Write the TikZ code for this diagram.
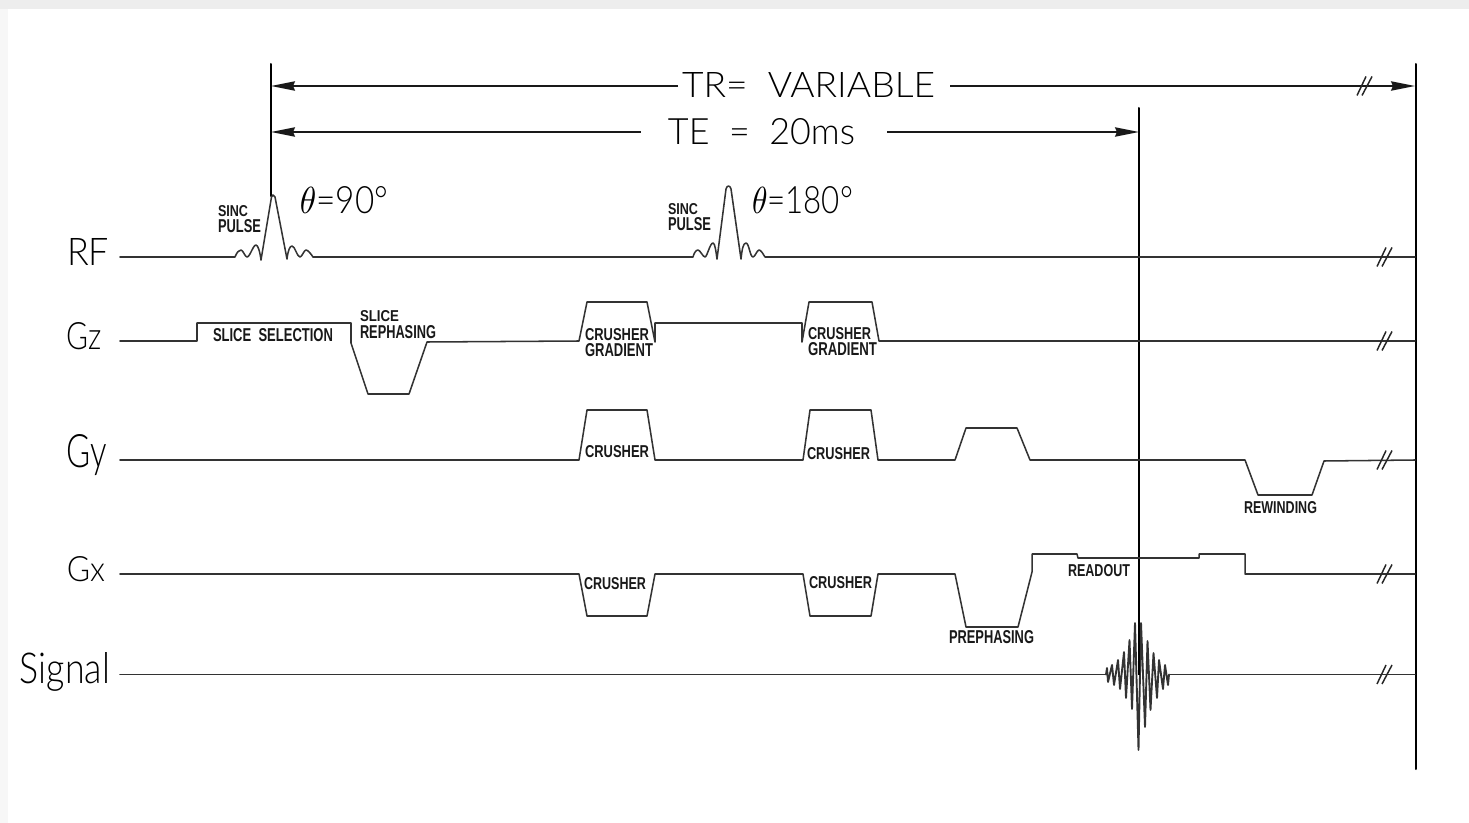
\documentclass[tikz,border=0pt]{standalone}
\usepackage{graphicx}
\usepackage{fontspec}
\setmainfont{Liberation Sans}
\newfontfamily\thinf{Lato Light}
\usetikzlibrary{arrows.meta}
\newdimen\pxd \pxd=0.75pt
\newcommand\fitl[3]{\resizebox{#1\pxd}{#2\pxd}{#3}}
\newcommand\brk[2]{%
  \draw[brk] ([shift={(-7,9.5)}]#1,#2) -- ([shift={(2,-9.5)}]#1,#2);
  \draw[brk] ([shift={(-2,9.5)}]#1,#2) -- ([shift={(8,-9.5)}]#1,#2);}
\tikzset{
  sig/.style={draw=black!80,line width=1.15pt,line join=round,line cap=round},
  vert/.style={draw=black,line width=1.5pt,line cap=round},
  dim/.style={draw=black!90,line width=1.15pt},
  arr/.style={dim,-{Stealth[length=18pt,width=7pt,inset=1.5pt]}},
  brk/.style={draw=black!85,line width=1.1pt},
  big/.style={inner sep=0pt,outer sep=0pt,text=black,font=\thinf},
  tiny/.style={inner sep=0pt,outer sep=0pt,text=black!90,font=\bfseries},
  two/.style={tiny,anchor=north west,align=left,font=\bfseries\fontsize{8}{0}\selectfont},
}
\begin{document}
\begin{tikzpicture}[x=0.75pt,y=-0.75pt]
\useasboundingbox (0,0) rectangle (1469,823);
\fill[white] (0,0) rectangle (1469,823);
\fill[black!7] (0,0) rectangle (1469,9);
\fill[black!3] (0,9) rectangle (8,823);

% vertical time markers
\coordinate (a0) at (271,64);  \coordinate (a1) at (271,196);
\coordinate (b0) at (1139,108);\coordinate (b1) at (1139,672);
\coordinate (c0) at (1415.5,64);\coordinate (c1) at (1415.5,769);
\draw[vert] (a0) -- (a1);
\draw[vert] (b0) -- (b1);
\draw[vert] (c0) -- (c1);

% timing labels and arrows
\node[big] (tr) at (808.5,85.5) {\fitl{253}{25}{TR=\ \ VARIABLE}};
\node[big] (te) at (761.5,132) {\fitl{187}{26}{TE\ \ =\ \ 20ms}};
\coordinate (trl) at (271,86); \coordinate (trr) at (1415,86);
\coordinate (tel) at (271,132); \coordinate (ter) at (1139,132);
\draw[arr] (tr.west |- trl) ++(-4,0) -- (trl);
\draw[arr] (tr.east |- trr) ++(15,0) -- (trr);
\draw[arr] (te.west |- tel) ++(-27,0) -- (tel);
\draw[arr] (te.east |- ter) ++(32,0) -- (ter);
\brk{1364}{86}

% row labels
\node[big] (rf) at (88,251.5) {\fitl{42}{27}{RF}};
\node[big] (gz) at (84.5,336.5) {\fitl{35}{27}{Gz}};
\node[big] (gy) at (87,455) {\fitl{40}{33}{Gy}};
\node[big] (gx) at (86,569.5) {\fitl{38}{25}{Gx}};
\node[big] (sg) at (65,671.5) {\fitl{90}{31}{Signal}};

% angle labels
\node[big] (t90) at (344,200) {\fitl{88}{27}{$\theta$=90°}};
\node[big] (t180) at (802.5,200) {\fitl{101}{27}{$\theta$=180°}};

% RF
\draw[sig] (120,257) -- (235,257)
  .. controls (237,252) and (239,250) .. (241,250)
  .. controls (243,250) and (245,257) .. (247,257)
  .. controls (250,257) and (253,245) .. (256,245)
  .. controls (258,245) and (260,252) .. (261,260)
  -- (271.5,197) -- (273,195) -- (275,197) -- (287,259)
  .. controls (288,250) and (290,246) .. (292,246)
  .. controls (295,246) and (297,257) .. (300,257)
  .. controls (302,257) and (304,250) .. (306,250)
  .. controls (308,250) and (311,254) .. (313,257)
  -- (693,257)
  .. controls (694,253) and (696,250) .. (698,250)
  .. controls (700,250) and (703,257) .. (705,257)
  .. controls (707,257) and (710,243) .. (713,243)
  .. controls (715,243) and (716,252) .. (717,259)
  -- (726,189) .. controls (727,185) and (730,185) .. (731,189)
  -- (741,259)
  .. controls (742,250) and (743,243) .. (746,243)
  .. controls (749,243) and (750,257) .. (753,257)
  .. controls (755,257) and (757,250) .. (759,250)
  .. controls (761,250) and (763,254) .. (765,257)
  -- (1415,257);
\brk{1384}{257}

% Gz
\draw[sig] (120,341) -- (197,341) -- (197,323) -- (351,323) -- (351,343)
  -- (368,394) -- (409,394) -- (427,342) -- (579,341) -- (587,302) -- (647,302)
  -- (655,342) -- (655,323) -- (802,323) -- (802,342) -- (809,302) -- (872,302)
  -- (879,341) -- (1415,341);
\brk{1384}{341}

% Gy
\draw[sig] (120,460) -- (579,460) -- (587,410) -- (647,410) -- (655,460)
  -- (803,460) -- (810,410) -- (871,410) -- (878,460) -- (955,460) -- (966,428)
  -- (1017,428) -- (1030,460) -- (1245,460) -- (1258,495) -- (1312,495)
  -- (1324,461) -- (1415,460);
\brk{1384}{460}

% Gx
\draw[sig] (120,574) -- (579,574) -- (587,616) -- (647,616) -- (655,574)
  -- (803,574) -- (810,616) -- (871,616) -- (878,574) -- (955,574) -- (966,627)
  -- (1018,627) -- (1032,572) -- (1032,554) -- (1077,554) -- (1078,558)
  -- (1199,558) -- (1199,554) -- (1245,554) -- (1245,574) -- (1415,574);
\brk{1384}{574}

% Signal
\draw[sig] (120,674.5) -- (1106,674.5);
\draw[sig] (1170,674.5) -- (1415,674.5);
\brk{1384}{674.5}
\draw[draw=black!80,line width=1.4pt,line join=round,line cap=round]
  (1106,674.5) -- (1107,668) -- (1108,682) -- (1112,665) -- (1114,685)
  -- (1118,660) -- (1120,689) -- (1124,652) -- (1126,698) -- (1129.5,640)
  -- (1132,709) -- (1135,623) -- (1138.5,750) -- (1141,623) -- (1145,727)
  -- (1147.5,641) -- (1150.5,710) -- (1153.5,653) -- (1157,698) -- (1159,660)
  -- (1163,689) -- (1165,665) -- (1168,685) -- (1169,674.5);
\draw[draw=black,line width=2.2pt] (1139,623) -- (1139,675);

% small labels
\node[two] (l1) at (218,206) {\fitl{30}{11}{SINC}\\[0.8pt]\fitl{43}{13}{PULSE}};
\node[two] (l2) at (668,204) {\fitl{30}{11}{SINC}\\[0.8pt]\fitl{43}{13}{PULSE}};
\node[tiny] (l3) at (273,335.5) {\fitl{120}{13}{SLICE\ \ SELECTION}};
\node[two] (l4) at (360,311) {\fitl{39}{11}{SLICE}\\[1.4pt]\fitl{76}{13}{REPHASING}};
\node[two] (l5) at (585,328) {\fitl{64}{12}{CRUSHER}\\[1.8pt]\fitl{68}{13}{GRADIENT}};
\node[two] (l6) at (808,327) {\fitl{63}{12}{CRUSHER}\\[1.8pt]\fitl{69}{13}{GRADIENT}};
\node[tiny] (l7) at (617,452) {\fitl{64}{12}{CRUSHER}};
\node[tiny] (l8) at (838.5,454) {\fitl{63}{12}{CRUSHER}};
\node[tiny] (l9) at (615,584) {\fitl{62}{12}{CRUSHER}};
\node[tiny] (l10) at (840.5,583) {\fitl{63}{12}{CRUSHER}};
\node[tiny] (l11) at (991.5,637.5) {\fitl{85}{13}{PREPHASING}};
\node[tiny] (l12) at (1099,571) {\fitl{62}{12}{READOUT}};
\node[tiny] (l13) at (1280.5,508) {\fitl{73}{12}{REWINDING}};
\end{tikzpicture}
\end{document}
